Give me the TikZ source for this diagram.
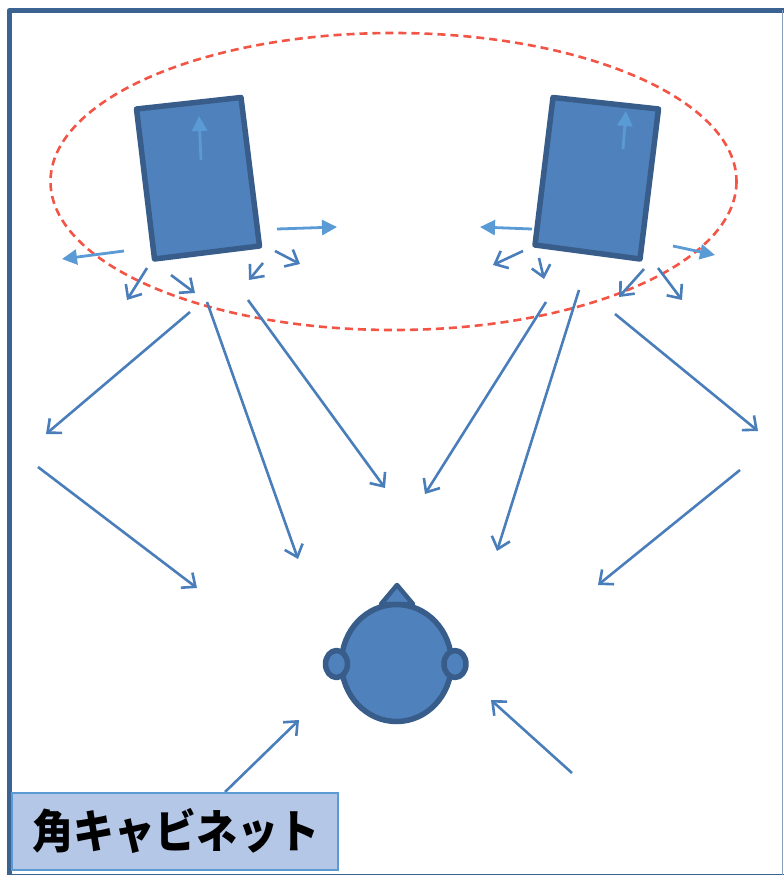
\documentclass[tikz,border=0pt]{standalone}
\usepackage{fontspec}
\usepackage{graphicx}
\newfontfamily\cjk{Noto Sans CJK JP}
\usetikzlibrary{arrows.meta}
\definecolor{frameblue}{HTML}{3B6392}
\definecolor{fillblue}{HTML}{4F81BD}
\definecolor{edgeblue}{HTML}{385D8A}
\definecolor{lightarrow}{HTML}{5B9BD5}
\definecolor{openarrow}{HTML}{4A7EBB}
\definecolor{dashred}{HTML}{F25545}
\definecolor{labelfill}{HTML}{B4C7E7}
\tikzset{
  outerframe/.style={draw=frameblue,line width=5.5pt,line join=round},
  solidshape/.style={draw=edgeblue,fill=fillblue,line width=5.5pt,line join=round},
  listening/.style={draw=dashred,line width=2.6pt,dash pattern=on 8pt off 5pt},
  lightflow/.style={draw=lightarrow,line width=2.8pt,-{Triangle[length=15pt,width=15pt]}},
  openflow/.style={draw=openarrow,line width=2.6pt,-{Straight Barb[length=11pt,width=19pt,line width=2.6pt]}},
  caption/.style={draw=lightarrow,fill=labelfill,line width=1.8pt,minimum width=326pt,minimum height=77pt,inner sep=0pt,anchor=north west}
}
\begin{document}
\begin{tikzpicture}[x=1pt,y=-1pt]
\useasboundingbox (0,0) rectangle (784,875);
\begin{scope}
\clip (0,0) rectangle (784,875);
\draw[outerframe] (9.5,10.5) rectangle (790,876.5);
\end{scope}
\draw[draw=frameblue!60,line width=1pt] (782.5,10.5) -- (782.5,875);
% listening-area ellipse
\draw[listening] (393.5,181.5) ellipse [x radius=343,y radius=148.5];
% cabinets
\coordinate (la) at (136.5,109);
\coordinate (lb) at (241,97.5);
\coordinate (lc) at (259.5,246);
\coordinate (ld) at (154.5,259);
\coordinate (ra) at (553,97.5);
\coordinate (rb) at (658.5,109);
\coordinate (rc) at (640,259);
\coordinate (rd) at (535,245);
\draw[solidshape] (la) -- (lb) -- (lc) -- (ld) -- cycle;
\draw[solidshape] (ra) -- (rb) -- (rc) -- (rd) -- cycle;
% listener
\coordinate (na) at (397,585);
\coordinate (nb) at (381,604);
\coordinate (nc) at (413,604);
\draw[solidshape,line width=4.5pt] (na) -- (nb) -- (nc) -- cycle;
\draw[solidshape] (396.5,663) ellipse [x radius=55,y radius=58.5];
\draw[solidshape] (336.5,664) ellipse [x radius=11,y radius=13.5];
\draw[solidshape] (455,664) ellipse [x radius=11,y radius=13.5];
% light arrows
\foreach \xa/\ya/\xb/\yb in {201/160/199/116, 277/229/337/227, 124/251/62/259,
                             623/149/626/111, 532/229/480/227, 673/246/715/255}
  \draw[lightflow] (\xa,\ya) -- (\xb,\yb);
% reflected rays
\foreach \xa/\ya/\xb/\yb in {147/268/127/300, 171/275/195/293, 275/251/300/264, 263/263/249/280,
                             523/251/493/265, 539/258/544/279, 644/269/619/297, 658/268/682/300,
                             190/312/46/434, 207/302/298/559, 248/300/385/488,
                             546/302/425/494, 579/290/497/551, 615/314/758/431,
                             38/467/197/588, 740/470/598/585, 225/792/299/720, 572/773/491/700}
  \draw[openflow] (\xa,\ya) -- (\xb,\yb);
% caption
\node[caption] (cap) at (11,792) {};
\node[font=\cjk\bfseries\fontsize{41}{41}\selectfont,text=black,inner sep=0pt] (captext) at (176,831) {\scalebox{1}[1.12]{角キャビネット}};
\end{tikzpicture}
\end{document}
